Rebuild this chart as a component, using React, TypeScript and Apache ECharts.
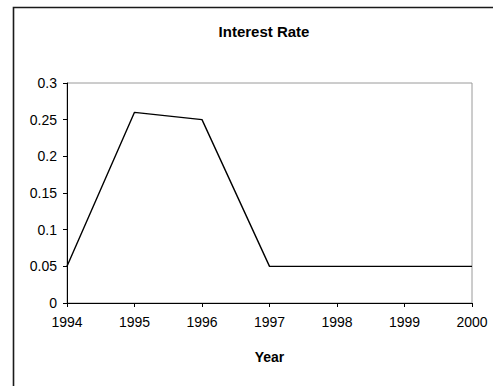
import React, { useEffect, useRef } from "react";
import * as echarts from "echarts";

const years = ["1994", "1995", "1996", "1997", "1998", "1999", "2000"];
const rates = [0.05, 0.26, 0.25, 0.05, 0.05, 0.05, 0.05];

const FONT = "'Liberation Sans', Arial, sans-serif";

export default function App() {
  const ref = useRef<HTMLDivElement>(null);

  useEffect(() => {
    if (!ref.current) return;
    const chart = echarts.init(ref.current, undefined, { renderer: "svg" });
    chart.setOption({
      animation: false,
      backgroundColor: "#fff",
      textStyle: { fontFamily: FONT },
      title: {
        text: "Interest Rate",
        left: 259,
        textAlign: "center",
        top: 19,
        textStyle: { fontSize: 15, fontWeight: "bold", color: "#000", fontFamily: FONT },
      },
      graphic: [
        {
          type: "rect",
          shape: { x: 13.5, y: 7.5, width: 600, height: 600 },
          style: { fill: "none", stroke: "#1a1a1a", lineWidth: 1.6 },
          silent: true,
          z: 100,
        },
      ],
      grid: {
        left: 67,
        right: 21,
        top: 83,
        bottom: 83,
        show: true,
        borderColor: "#9a9a9a",
        borderWidth: 1,
        backgroundColor: "transparent",
      },
      xAxis: {
        type: "category",
        data: years,
        boundaryGap: false,
        name: "Year",
        nameLocation: "middle",
        nameGap: 47,
        nameTextStyle: { fontSize: 14, fontWeight: "bold", color: "#000", fontFamily: FONT },
        axisLine: { lineStyle: { color: "#000", width: 1 } },
        axisTick: { show: true, length: 4, inside: false, lineStyle: { color: "#000" } },
        axisLabel: { margin: 12, fontSize: 14, color: "#000", fontFamily: FONT },
        splitLine: { show: false },
      },
      yAxis: {
        type: "value",
        min: 0,
        max: 0.3,
        interval: 0.05,
        axisLine: { show: true, lineStyle: { color: "#000", width: 1 } },
        axisTick: { show: true, length: 4, inside: false, lineStyle: { color: "#000" } },
        axisLabel: {
          margin: 10,
          fontSize: 14,
          color: "#000",
          fontFamily: FONT,
          formatter: (v: number) => String(Number(v.toFixed(2))),
        },
        splitLine: { show: false },
      },
      series: [
        {
          type: "line",
          data: rates,
          showSymbol: false,
          symbol: "none",
          lineStyle: { color: "#000", width: 1.4 },
        },
      ],
    });
    return () => chart.dispose();
  }, []);

  return (
    <div
      ref={ref}
      style={{ position: "fixed", left: 0, top: 0, width: 493, height: 386 }}
    />
  );
}
